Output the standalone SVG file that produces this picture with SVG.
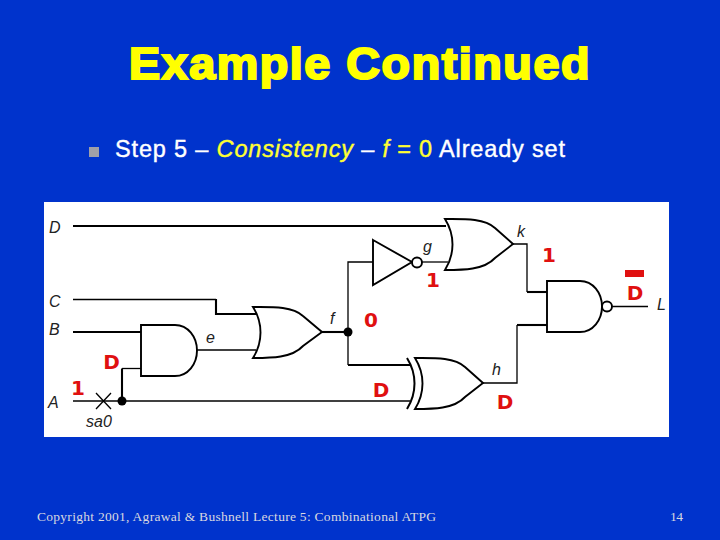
<svg xmlns="http://www.w3.org/2000/svg" width="720" height="540" viewBox="0 0 720 540">
<style>
.th{fill:none;stroke:#000;stroke-width:2.100}
.tn{fill:none;stroke:#000;stroke-width:1.300}
.gate{fill:#fff;stroke:#000;stroke-width:1.900}
.lab{font-family:"Liberation Sans",Arial,sans-serif;font-style:italic;font-size:16px;fill:#222}
.val{font-family:"DejaVu Sans",sans-serif;font-weight:bold;font-size:20px;fill:#e01010;text-anchor:middle}
.foot{font-family:"Liberation Serif",serif;font-size:13.500px;fill:#d8d8e0}
</style>
<rect width="720" height="540" fill="#0033cc"/>
<text id="title" x="129" y="79" font-family="'Liberation Sans',Arial,sans-serif" font-weight="bold" font-size="45" letter-spacing="1.500" fill="#ffff00" stroke="#ffff00" stroke-width="2.200" textLength="462" lengthAdjust="spacingAndGlyphs">Example Continued</text>
<rect id="bullet" x="89" y="147" width="10" height="10" fill="#a0a0a8"/>
<text id="step" x="115" y="157" font-family="'Liberation Sans',Arial,sans-serif" font-size="23.500" fill="#fff" stroke="#fff" stroke-width="0.400" textLength="450">Step 5 – <tspan font-style="italic" fill="#ffff33" stroke="#ffff33">Consistency</tspan> – <tspan font-style="italic" fill="#ffff33" stroke="#ffff33">f</tspan><tspan fill="#ffff33" stroke="#ffff33"> = 0</tspan> Already set</text>
<rect id="panel" x="44" y="202" width="625" height="235" fill="#fff"/>
<g id="connectors">
<path class="th" d="M73 226H446"/>
<path class="tn" d="M73 299.500H216"/>
<path class="th" d="M216 299V314H256"/>
<path class="th" d="M73 332H141"/>
<path class="tn" d="M197 350H256"/>
<path class="th" d="M322 332H348"/>
<path class="tn" d="M373 262H348V365"/>
<path class="th" d="M348 365H410"/>
<path class="tn" d="M73 401H410"/>
<path class="th" d="M122 401V368.500"/>
<path class="tn" d="M122 368.500H141"/>
<path class="tn" d="M422 262H448"/>
<path class="tn" d="M513 244H527V292"/>
<path class="th" d="M527 292H547"/>
<path class="th" d="M547 325H517"/>
<path class="tn" d="M517 325V383H483"/>
<path class="tn" d="M612 306.500H648"/>
<path class="tn" d="M96 393L111 409M111 393L96 409"/>
<circle cx="122" cy="401" r="4.500" fill="#000"/>
<circle cx="348" cy="332" r="4.500" fill="#000"/>
</g>
<g id="gate-and"><path class="gate" d="M141 325H175C188 325 197 337 197 350.500C197 364 188 376 175 376H141Z"/></g>
<g id="gate-or1"><path class="gate" d="M253 307C271 307 292 306 303 316L322 332L303 346C292 358 271 358 253 358C263 342 263 323 253 307Z"/></g>
<g id="gate-not"><path class="gate" d="M373 240L412 262L373 285Z"/><circle class="gate" cx="417" cy="262.500" r="5"/></g>
<g id="gate-or2"><path class="gate" d="M445 219C463 219 484 218 495 228L513 244L495 258C484 270 463 270 445 270C455 254 455 235 445 219Z"/></g>
<g id="gate-nand"><path class="gate" d="M547 281H580C593 281 602 293 602 306.500C602 320 593 332 580 332H547Z"/><circle class="gate" cx="607" cy="306.500" r="5"/></g>
<g id="gate-xor"><path class="gate" d="M415 358C433 358 454 357 465 367L483 383L465 397C454 409 433 409 415 409C425 393 425 374 415 358Z"/><path class="tn" style="stroke-width:2" d="M407 358C417 374 417 393 407 409"/></g>
<g id="labels">
<text class="lab" x="49" y="232.500">D</text>
<text class="lab" x="49" y="306.500">C</text>
<text class="lab" x="49" y="335">B</text>
<text class="lab" x="48" y="408">A</text>
<text class="lab" x="86" y="427">sa0</text>
<text class="lab" x="206" y="343">e</text>
<text class="lab" x="330" y="324">f</text>
<text class="lab" x="423" y="252">g</text>
<text class="lab" x="517" y="237">k</text>
<text class="lab" x="492" y="375">h</text>
<text class="lab" x="657" y="310">L</text>
</g>
<g id="values">
<text class="val" x="111.500" y="369">D</text>
<text class="val" x="78" y="395">1</text>
<text class="val" x="433" y="287">1</text>
<text class="val" x="549" y="262">1</text>
<text class="val" x="371" y="327">0</text>
<text class="val" x="381" y="397">D</text>
<text class="val" x="505" y="409">D</text>
<text class="val" x="635" y="300">D</text>
<rect x="625" y="270" width="19" height="7" fill="#e01010"/>
</g>
<text id="footer" class="foot" x="37" y="521" textLength="399">Copyright 2001, Agrawal &amp; Bushnell Lecture 5: Combinational ATPG</text>
<text id="page" class="foot" x="670" y="521" textLength="13">14</text>
</svg>
